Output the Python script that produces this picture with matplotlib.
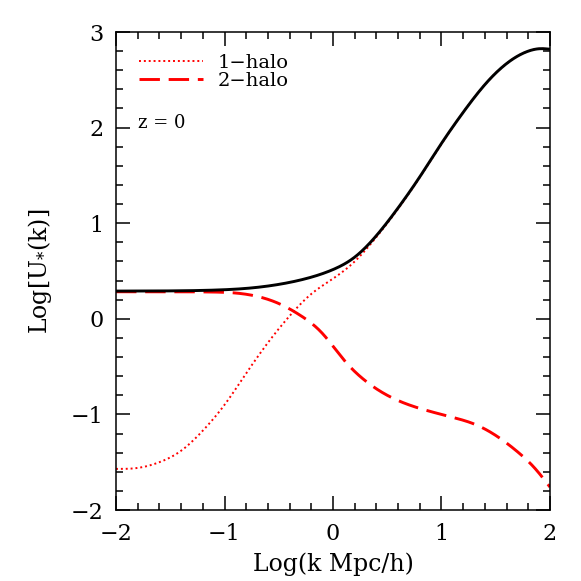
import numpy as np
import matplotlib
matplotlib.use("Agg")
import matplotlib.pyplot as plt
from matplotlib.ticker import MultipleLocator

# Data (log k, log U)
x_total = [-2.0, -1.5, -1.1, -0.8, -0.5, -0.25, 0.0, 0.2, 0.4, 0.6, 0.8, 1.0, 1.2, 1.4, 1.6, 1.8, 1.9, 2.0]
y_total = [0.29, 0.292, 0.300, 0.318, 0.36, 0.42, 0.515, 0.645, 0.87, 1.16, 1.485, 1.835, 2.16, 2.45, 2.67, 2.80, 2.825, 2.82]

x_one = [-2.0, -1.8, -1.6, -1.4, -1.2, -1.0, -0.8, -0.6, -0.4, -0.2, 0.0, 0.2, 0.4, 0.6, 0.8, 1.0, 1.2, 1.4, 1.6, 1.8, 1.9, 2.0]
y_one = [-1.57, -1.56, -1.50, -1.38, -1.17, -0.90, -0.57, -0.25, 0.03, 0.26, 0.42, 0.60, 0.855, 1.15, 1.48, 1.83, 2.16, 2.45, 2.67, 2.80, 2.825, 2.82]

x_two = [-2.0, -1.5, -1.1, -0.9, -0.7, -0.5, -0.3, -0.1, 0.1, 0.3, 0.5, 0.7, 0.9, 1.1, 1.3, 1.5, 1.7, 1.85, 2.0]
y_two = [0.283, 0.283, 0.28, 0.27, 0.235, 0.16, 0.035, -0.15, -0.43, -0.65, -0.80, -0.90, -0.97, -1.03, -1.10, -1.22, -1.39, -1.55, -1.76]

xticks = [-2, -1, 0, 1, 2]
yticks = [-2, -1, 0, 1, 2, 3]


def spline(xs, ys, n=500):
    """Natural cubic spline through the read points."""
    xs = np.asarray(xs, float); ys = np.asarray(ys, float)
    N = len(xs); h = np.diff(xs)
    A = np.zeros((N, N)); r = np.zeros(N)
    A[0, 0] = A[-1, -1] = 1
    for i in range(1, N - 1):
        A[i, i - 1] = h[i - 1]; A[i, i] = 2 * (h[i - 1] + h[i]); A[i, i + 1] = h[i]
        r[i] = 6 * ((ys[i + 1] - ys[i]) / h[i] - (ys[i] - ys[i - 1]) / h[i - 1])
    M = np.linalg.solve(A, r)
    xx = np.linspace(xs[0], xs[-1], n)
    k = np.clip(np.searchsorted(xs, xx) - 1, 0, N - 2)
    a = xs[k + 1] - xx; b = xx - xs[k]; hk = h[k]
    yy = (M[k] * a**3 + M[k + 1] * b**3) / (6 * hk) + (ys[k] / hk - M[k] * hk / 6) * a \
        + (ys[k + 1] / hk - M[k + 1] * hk / 6) * b
    return xx, yy


plt.rcParams["mathtext.fontset"] = "dejavuserif"
serif = ["DejaVu Serif"]

fig = plt.figure(figsize=(5.81, 5.81), dpi=100)
ax = fig.add_axes([0.1997, 0.1222, 0.7469, 0.8227])

xs, ys = spline(x_one, y_one)
ax.plot(xs, ys, color="red", lw=1.4, linestyle=(0, (1, 1.5)), label="1−halo")
xs, ys = spline(x_two, y_two)
ax.plot(xs, ys, color="red", lw=2.1, linestyle=(0, (7, 3)), label="2−halo")
xs, ys = spline(x_total, y_total)
ax.plot(xs, ys, color="black", lw=2.1)

ax.set_xlim(-2, 2)
ax.set_ylim(-2, 3)
ax.set_xticks(xticks)
ax.set_yticks(yticks)
ax.set_xticklabels([str(v).replace("-", "−") for v in xticks], family=serif, fontsize=16)
ax.set_yticklabels([str(v).replace("-", "−") for v in yticks], family=serif, fontsize=16)
ax.xaxis.set_minor_locator(MultipleLocator(0.2))
ax.yaxis.set_minor_locator(MultipleLocator(0.2))
ax.tick_params(which="both", direction="in", top=True, right=True, width=1.1, colors="black")
ax.tick_params(which="major", length=10, pad=9)
ax.tick_params(which="minor", length=5)
for s in ax.spines.values():
    s.set_linewidth(1.1)

ax.set_xlabel("Log(k Mpc/h)", family=serif, fontsize=17, labelpad=6)
ax.set_ylabel(r"Log[U$_{*}$(k)]", family=serif, fontsize=17, labelpad=12)

leg = ax.legend(loc="upper left", frameon=False, prop={"family": serif, "size": 14},
                handlelength=3.3, handletextpad=0.75, labelspacing=0.0,
                borderaxespad=0.0, bbox_to_anchor=(0.035, 0.97))
ax.text(0.05, 0.81, "z = 0", transform=ax.transAxes, family=serif, fontsize=13,
        ha="left", va="center")

fig.savefig("out.png", dpi=100)
